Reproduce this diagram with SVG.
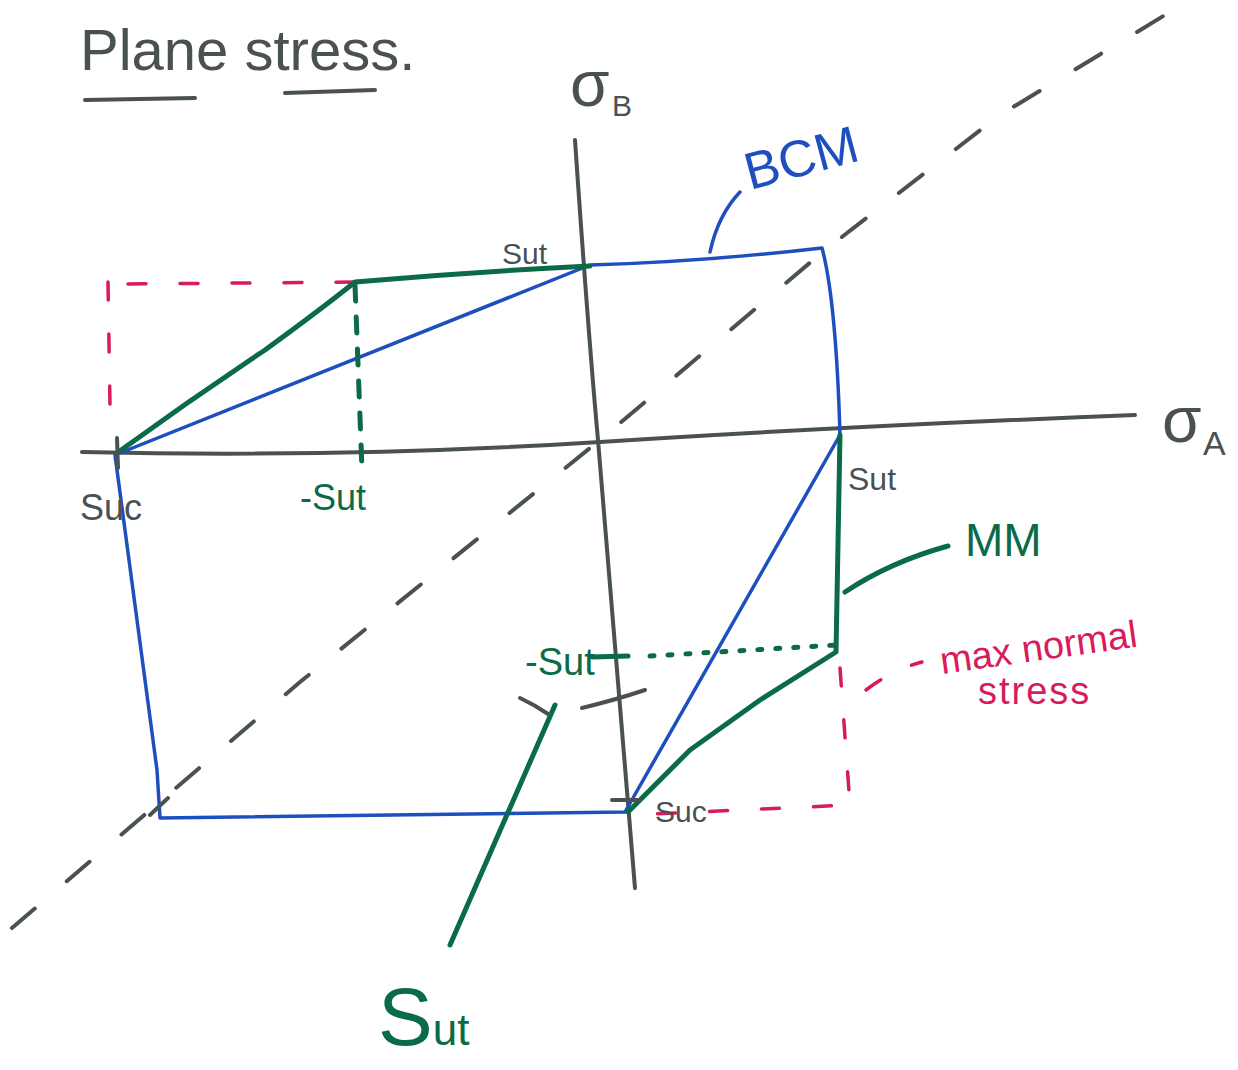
<svg xmlns="http://www.w3.org/2000/svg" width="1238" height="1070" viewBox="0 0 1238 1070">
<style>
.ax{fill:none;stroke:#4a5152;stroke-width:4;stroke-linecap:round}
.bl{fill:none;stroke:#1d4fbf;stroke-width:3.5;stroke-linecap:round;stroke-linejoin:round}
.gr{fill:none;stroke:#0b6b47;stroke-width:5;stroke-linecap:round;stroke-linejoin:round}
.pk{fill:none;stroke:#d81b5c;stroke-width:3.5;stroke-linecap:round;stroke-dasharray:18 34}
.t{font-family:"Liberation Sans",Arial,sans-serif}
.tg{fill:#4a5152}
.tgr{fill:#0b6b47}
.tb{fill:#1d4fbf}
.tp{fill:#d81b5c}
</style>
<rect width="1238" height="1070" fill="#ffffff"/>
<g id="title">
<text class="t tg" x="80" y="70" font-size="58">Plane  stress.</text>
<path class="ax" d="M85,100 L195,98 M285,93 L375,90"/>
</g>
<g id="axes">
<path class="ax" d="M575,140 Q588,330 598,440 T635,888"/>
<path class="ax" d="M82,452 Q350,458 600,442 T1135,415"/>
<path class="ax" d="M12,928 L300,682 L600,440 L825,250 L1000,115 L1165,15" stroke-dasharray="30 42" stroke-width="5"/>
<text class="t tg" x="570" y="106" font-size="64">σ</text>
<text class="t tg" x="612" y="116" font-size="30">B</text>
<text class="t tg" x="1162" y="442" font-size="64">σ</text>
<text class="t tg" x="1203" y="455" font-size="34">A</text>
</g>
<g id="connectors">
<!-- max normal stress box -->
<path class="pk" d="M108,282 L110,405 M128,284 L355,282" stroke-dasharray="18 26"/>
<path class="pk" d="M840,668 L850,805 L630,815" stroke-dasharray="22 26"/>
<!-- BCM -->
<path class="bl" d="M115,455 L157,770 L160,818 L625,812 L840,435 Q836,300 822,248 Q700,262 590,265 L115,455"/>
<!-- MM -->
<path class="gr" d="M117,453 Q190,400 265,350 Q320,310 355,282 Q470,272 590,266"/>
<path class="gr" d="M840,435 L836,652 L760,700 L690,750 L628,812"/>
<!-- -Sut guides -->
<path class="gr" d="M355,285 L362,470" stroke-dasharray="16 16" stroke-width="4"/>
<path class="gr" d="M650,656 L836,645" stroke-dasharray="4 14" stroke-width="4"/>
<path class="gr" d="M592,657 L628,656" stroke-width="4"/>
<!-- ticks -->
<path class="ax" d="M117,438 L118,468 M150,815 L168,798 M612,800 L640,800"/>
<!-- leaders -->
<path class="bl" d="M710,252 Q718,215 740,192"/>
<path class="gr" d="M845,592 Q890,562 948,546" stroke-width="4"/>
<path class="pk" d="M866,690 Q892,670 922,662" stroke-dasharray="none" stroke-width="4"/>
<path class="gr" d="M555,705 L450,945" stroke-width="4"/>
<path class="ax" d="M520,698 Q535,705 548,714 M582,708 Q615,700 645,690" stroke-width="2"/>
</g>
<g id="labels">
<text class="t tg" x="502" y="264" font-size="30">Sut</text>
<text class="t tg" x="80" y="520" font-size="36">Suc</text>
<text class="t tgr" x="300" y="510" font-size="36">-Sut</text>
<text class="t tg" x="848" y="490" font-size="32">Sut</text>
<text class="t tgr" x="965" y="556" font-size="46">MM</text>
<text class="t tp" x="942" y="674" font-size="38" transform="rotate(-8 942 674)">max normal</text>
<text class="t tp" x="978" y="704" font-size="38" letter-spacing="2">stress</text>
<text class="t tgr" x="525" y="675" font-size="38">-Sut</text>
<text class="t tg" x="655" y="822" font-size="30">Suc</text>
<text class="t tb" x="750" y="190" font-size="52" transform="rotate(-15 750 190)">BCM</text>
<text class="t tgr" x="378" y="1045" font-size="82">S<tspan font-size="44">ut</tspan></text>
</g>
</svg>
